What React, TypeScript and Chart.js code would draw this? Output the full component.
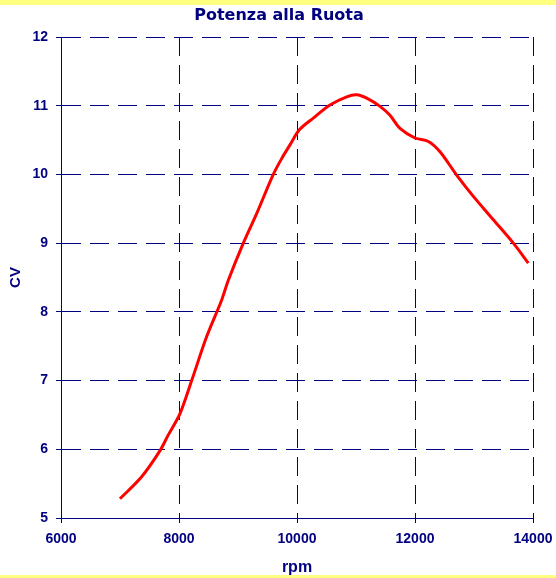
import React, { useEffect, useRef } from "react";
import { Chart, registerables } from "chart.js";

Chart.register(...registerables);

const titleText = "Potenza alla Ruota";
const xTitle = "rpm";
const yTitle = "CV";
const rpm = [7000, 7367, 7678, 7819, 8017, 8215, 8469, 8722, 8836, 9090, 9316, 9598, 9740, 9881, 10040, 10276, 10559, 10842, 11011, 11181, 11407, 11576, 11746, 12000, 12226, 12424, 12706, 12989, 13328, 13667, 13921];
const cv = [5.28, 5.6, 5.98, 6.21, 6.52, 7.0, 7.64, 8.17, 8.46, 9.0, 9.43, 10.0, 10.23, 10.43, 10.65, 10.82, 11.01, 11.13, 11.16, 11.11, 10.99, 10.86, 10.67, 10.53, 10.48, 10.33, 9.99, 9.68, 9.34, 9.0, 8.71];
const xMin = 6000, xMax = 14000, xStep = 2000;
const yMin = 5, yMax = 12, yStep = 1;

const NAVY = "#000080";
const FONT = "'Liberation Sans', Arial, sans-serif";

export default function App() {
  const ref = useRef<HTMLCanvasElement | null>(null);
  useEffect(() => {
    const canvas = ref.current;
    if (!canvas) return;
    const framePlugin = {
      id: "frame",
      beforeDraw(chart: any) {
        const { ctx, width, height } = chart;
        ctx.save();
        ctx.fillStyle = "#ffff80";
        ctx.fillRect(0, 0, width, height);
        ctx.fillStyle = "#ffffff";
        ctx.fillRect(0, 5, width, height - 8);
        ctx.restore();
      },
      afterDraw(chart: any) {
        const { ctx } = chart;
        ctx.save();
        ctx.fillStyle = NAVY;
        ctx.font = "bold 16px 'DejaVu Sans', sans-serif";
        ctx.textAlign = "center";
        ctx.textBaseline = "middle";
        ctx.fillText(titleText, 279, 16);
        ctx.restore();
      },
    };
    const tickFont = { family: FONT, size: 14, weight: "bold" as const };
    const chart = new Chart(canvas, {
      type: "line",
      data: {
        datasets: [
          {
            data: rpm.map((r, i) => ({ x: r, y: cv[i] })),
            borderColor: "#ff0000",
            borderWidth: 3,
            pointRadius: 0,
            tension: 0.3,
            fill: false,
          },
        ],
      },
      options: {
        animation: false,
        responsive: false,
        devicePixelRatio: 1,
        layout: { padding: { left: 0, right: 23, top: 37, bottom: 0 } },
        plugins: { legend: { display: false }, tooltip: { enabled: false }, title: { display: false } },
        scales: {
          x: {
            type: "linear",
            min: xMin,
            max: xMax,
            afterFit: (s: any) => { s.height = 60; s.paddingLeft = 0; s.paddingRight = 0; },
            ticks: { stepSize: xStep, color: NAVY, font: tickFont, padding: 8, maxRotation: 0, callback: (v: any) => String(v) },
            grid: { color: NAVY, lineWidth: 1, tickLength: 5, tickBorderDash: [] },
            border: { display: true, color: NAVY, width: 1, dash: [19, 9] },
            title: { display: true, text: xTitle, color: NAVY, font: { family: FONT, size: 16, weight: "bold" }, padding: { top: 0, bottom: 1 } },
          },
          y: {
            type: "linear",
            min: yMin,
            max: yMax,
            afterFit: (s: any) => { s.width = 61; s.paddingTop = 0; s.paddingBottom = 0; },
            ticks: { stepSize: yStep, color: NAVY, font: tickFont, padding: 8, callback: (v: any) => String(v) },
            grid: { color: NAVY, lineWidth: 1, tickLength: 5, tickBorderDash: [] },
            border: { display: true, color: NAVY, width: 1, dash: [19, 9] },
            title: { display: true, text: yTitle, color: NAVY, font: { family: FONT, size: 15, weight: "bold" }, padding: { top: 7, bottom: 0 } },
          },
        },
      },
      plugins: [framePlugin],
    });
    return () => chart.destroy();
  }, []);
  return (
    <div style={{ position: "absolute", left: 0, top: 0, width: 556, height: 578 }}>
      <canvas ref={ref} width={556} height={578} style={{ display: "block" }} />
    </div>
  );
}
